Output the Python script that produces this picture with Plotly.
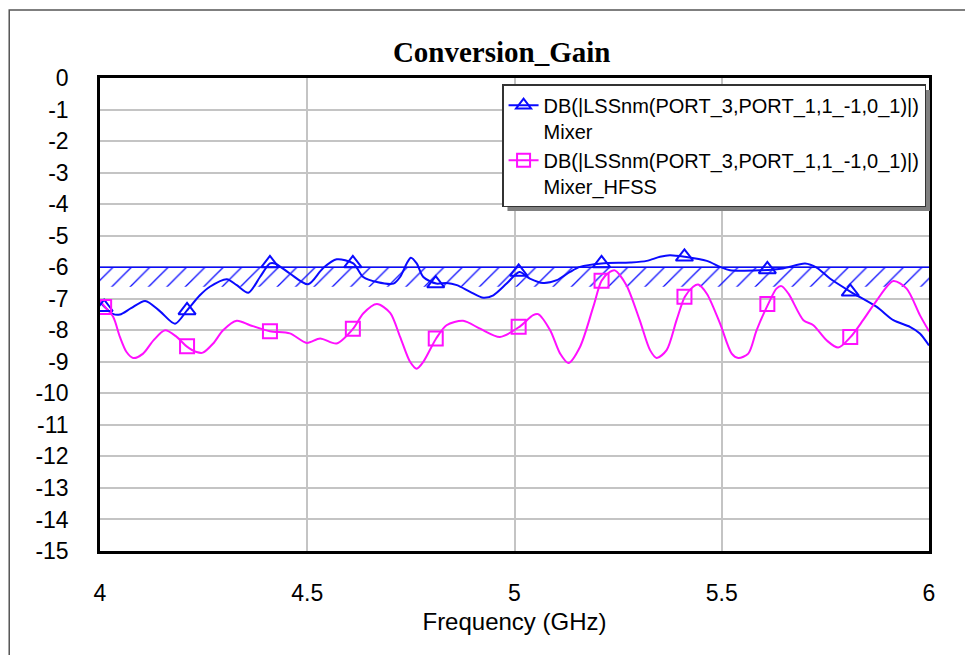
import plotly.graph_objects as go

# Mixer (blue) curve
freq_mixer = [4.000, 4.012, 4.031, 4.048, 4.075, 4.109, 4.145, 4.181, 4.210, 4.241, 4.265,
              4.306, 4.330, 4.358, 4.386, 4.410, 4.422, 4.458, 4.502, 4.538, 4.571, 4.611,
              4.635, 4.668, 4.708, 4.724, 4.740, 4.750, 4.764, 4.780, 4.811, 4.836, 4.861,
              4.893, 4.925, 4.949, 4.981, 5.012, 5.037, 5.069, 5.102, 5.134, 5.158, 5.210,
              5.279, 5.319, 5.351, 5.375, 5.411, 5.464, 5.496, 5.520, 5.592, 5.648, 5.701,
              5.729, 5.761, 5.811, 5.874, 5.914, 5.954, 5.978, 6.000]
gain_mixer = [-7.10, -7.27, -7.48, -7.50, -7.30, -7.07, -7.40, -7.79, -7.37, -6.89, -6.62,
              -6.38, -6.57, -6.81, -6.31, -5.88, -5.88, -6.20, -6.54, -6.03, -5.75, -5.88,
              -6.31, -6.47, -6.52, -6.31, -5.88, -5.70, -5.88, -6.31, -6.52, -6.50, -6.57,
              -6.78, -6.97, -6.89, -6.52, -6.15, -6.36, -6.50, -6.41, -6.15, -5.99, -5.88,
              -5.85, -5.80, -5.67, -5.62, -5.67, -5.80, -5.99, -6.10, -6.10, -6.04, -5.88,
              -6.01, -6.36, -6.78, -7.26, -7.68, -7.89, -8.10, -8.48]

# Mixer_HFSS (magenta) curve
freq_hfss = [4.000, 4.012, 4.032, 4.048, 4.064, 4.080, 4.104, 4.129, 4.157, 4.185, 4.209,
             4.233, 4.248, 4.273, 4.297, 4.330, 4.362, 4.410, 4.458, 4.499, 4.531, 4.571,
             4.611, 4.635, 4.668, 4.700, 4.724, 4.748, 4.764, 4.780, 4.811, 4.836, 4.876,
             4.917, 4.965, 5.012, 5.045, 5.057, 5.086, 5.110, 5.130, 5.158, 5.190, 5.210,
             5.230, 5.242, 5.270, 5.302, 5.327, 5.343, 5.367, 5.391, 5.411, 5.431, 5.443,
             5.464, 5.496, 5.524, 5.540, 5.564, 5.584, 5.612, 5.632, 5.644, 5.661, 5.697,
             5.721, 5.753, 5.781, 5.811, 5.841, 5.874, 5.914, 5.946, 5.978, 6.000]
gain_hfss = [-7.07, -7.26, -7.58, -8.21, -8.69, -8.88, -8.74, -8.32, -8.00, -8.21, -8.51,
             -8.69, -8.71, -8.42, -8.00, -7.70, -7.84, -8.03, -8.10, -8.40, -8.26, -8.42,
             -7.95, -7.47, -7.17, -7.45, -8.21, -9.00, -9.22, -9.00, -8.26, -7.84, -7.70,
             -7.95, -8.21, -7.89, -7.52, -7.49, -8.00, -8.74, -9.04, -8.53, -7.26, -6.43,
             -6.15, -6.10, -6.57, -7.68, -8.63, -8.88, -8.63, -7.68, -6.94, -6.62, -6.55,
             -6.84, -7.79, -8.74, -8.88, -8.74, -8.00, -7.17, -6.68, -6.60, -6.84, -7.68,
             -7.84, -8.32, -8.55, -8.21, -7.68, -7.05, -6.44, -6.68, -7.52, -8.03]

# marker positions
marker_freq = [4.01, 4.21, 4.41, 4.61, 4.81, 5.01, 5.21, 5.41, 5.61, 5.81]
marker_mixer = [-7.27, -7.37, -5.88, -5.88, -6.52, -6.15, -5.88, -5.67, -6.07, -6.78]
marker_hfss = [-7.26, -8.51, -8.03, -7.95, -8.26, -7.89, -6.43, -6.94, -7.17, -8.21]

# spec band
spec_freq = [4.0, 6.0]
spec_top = -6.0
spec_bottom = -6.62

# axis ticks
x_ticks = [4, 4.5, 5, 5.5, 6]
x_ticklabels = ["4", "4.5", "5", "5.5", "6"]
y_ticks = list(range(0, -16, -1))
y_ticklabels = ["0"] + ["-%d" % v for v in range(1, 16)]

legend_label = "DB(|LSSnm(PORT_3,PORT_1,1_-1,0_1)|)"
blue = "#0a0aff"
magenta = "#ff10ff"
font_sans = "Liberation Sans, Arial, sans-serif"

fig = go.Figure()

# hatched spec region
fig.add_trace(go.Scatter(
    x=[spec_freq[0], spec_freq[1], spec_freq[1], spec_freq[0], spec_freq[0]],
    y=[spec_top, spec_top, spec_bottom, spec_bottom, spec_top],
    mode="lines", line=dict(width=0), fill="toself",
    fillcolor="rgba(0,0,0,0)",
    fillpattern=dict(shape="/", fgcolor=blue, fgopacity=1, bgcolor="rgba(0,0,0,0)",
                     size=13, solidity=0.1),
    showlegend=False, hoverinfo="skip"))
fig.add_trace(go.Scatter(
    x=spec_freq, y=[spec_top, spec_top], mode="lines",
    line=dict(color=blue, width=1.6), showlegend=False, hoverinfo="skip"))

# curves
fig.add_trace(go.Scatter(
    x=freq_mixer, y=gain_mixer, mode="lines",
    line=dict(color=blue, width=2, shape="spline", smoothing=0.8),
    showlegend=False))
fig.add_trace(go.Scatter(
    x=freq_hfss, y=gain_hfss, mode="lines",
    line=dict(color=magenta, width=2, shape="spline", smoothing=0.8),
    showlegend=False))

# markers
fig.add_trace(go.Scatter(
    x=marker_freq, y=marker_mixer, mode="markers",
    marker=dict(symbol="triangle-up-open", size=15, color=blue, line=dict(width=2, color=blue)),
    showlegend=False))
fig.add_trace(go.Scatter(
    x=marker_freq, y=marker_hfss, mode="markers",
    marker=dict(symbol="square-open", size=14, color=magenta, line=dict(width=2, color=magenta)),
    showlegend=False))

# legend entries
fig.add_trace(go.Scatter(
    x=[None], y=[None], mode="lines+markers", name=legend_label + "<br>Mixer",
    line=dict(color=blue, width=2),
    marker=dict(symbol="triangle-up-open", size=13, color=blue, line=dict(width=2, color=blue))))
fig.add_trace(go.Scatter(
    x=[None], y=[None], mode="lines+markers", name=legend_label + "<br>Mixer_HFSS",
    line=dict(color=magenta, width=2),
    marker=dict(symbol="square-open", size=13, color=magenta, line=dict(width=2, color=magenta))))

fig.update_layout(
    width=965, height=647,
    margin=dict(l=92, r=44, t=70, b=104),
    paper_bgcolor="white", plot_bgcolor="white",
    font=dict(family=font_sans, color="black", size=23),
    title=dict(text="<b>Conversion_Gain</b>", x=0.5116, xanchor="center",
               y=0.932, yanchor="middle", yref="container",
               font=dict(family="Liberation Serif, Times New Roman, serif", size=29)),
    xaxis=dict(range=[4, 6], tickvals=x_ticks, ticktext=x_ticklabels,
               showgrid=True, gridcolor="#c4c4c4",
               gridwidth=2, zeroline=False, showline=True, linecolor="black", linewidth=2.5,
               mirror=True, ticks="", ticklabelstandoff=20,
               tickfont=dict(size=23),
               title=dict(text="Frequency (GHz)", standoff=8, font=dict(size=24))),
    yaxis=dict(range=[-15, 0], tickvals=y_ticks, ticktext=y_ticklabels,
               showgrid=True, gridcolor="#c4c4c4", gridwidth=2,
               zeroline=False, showline=True, linecolor="black", linewidth=2.5,
               mirror=True, ticks="", ticklabelstandoff=24,
               tickfont=dict(size=23)),
    legend=dict(x=0.485, y=0.987, xanchor="left", yanchor="top",
                bgcolor="white", bordercolor="#333333", borderwidth=1.5,
                font=dict(size=20, family=font_sans), valign="top",
                tracegroupgap=6, itemwidth=30),
    shapes=[
        # legend shadow
        dict(type="rect", xref="paper", yref="paper", x0=0.4915, x1=1.0012, y0=0.7188, y1=0.9746,
             fillcolor="#808080", line=dict(width=0), layer="above"),
        # outer frame
        dict(type="rect", xref="paper", yref="paper", x0=-0.1095, x1=1.2, y0=-0.5, y1=1.1438,
             fillcolor="rgba(0,0,0,0)", line=dict(color="#555555", width=1.5), layer="below"),
    ],
)

fig.write_html("out.html")
